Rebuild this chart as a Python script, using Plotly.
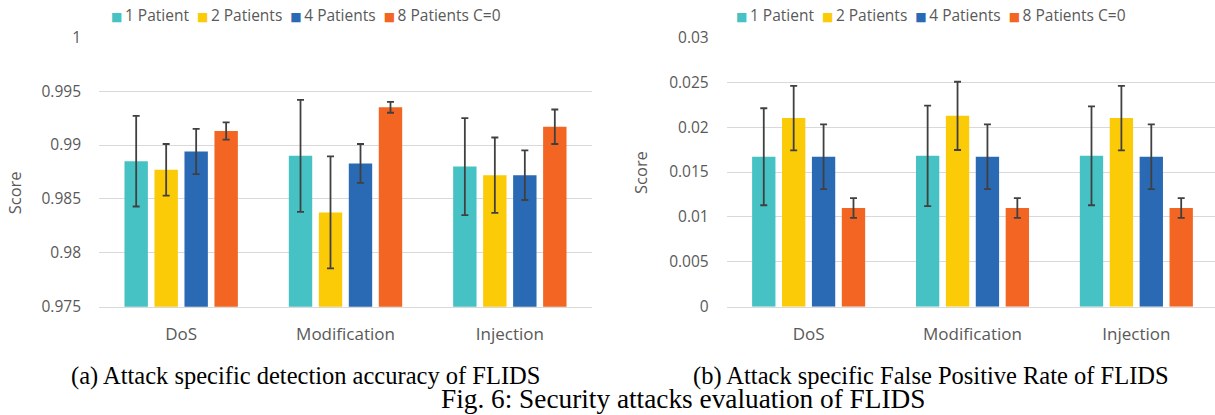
import plotly.graph_objects as go

categories = ["DoS", "Modification", "Injection"]
series_names = ["1 Patient", "2 Patients", "4 Patients", "8 Patients C=0"]
series_colors = ["#47C2C4", "#FCCB08", "#2A69B3", "#F26522"]

# (a) detection accuracy
acc_1p = [0.9885, 0.9890, 0.9880]
acc_1p_err = [0.0042, 0.0052, 0.0045]
acc_2p = [0.9877, 0.98375, 0.9872]
acc_2p_err = [0.0024, 0.0052, 0.0035]
acc_4p = [0.9894, 0.9883, 0.9872]
acc_4p_err = [0.0021, 0.0018, 0.0023]
acc_8p = [0.9913, 0.9935, 0.9917]
acc_8p_err = [0.0008, 0.0005, 0.0016]

# (b) false positive rate
fpr_1p = [0.0167, 0.0168, 0.0168]
fpr_1p_err = [0.0054, 0.0056, 0.0055]
fpr_2p = [0.0210, 0.02125, 0.0210]
fpr_2p_err = [0.0036, 0.0038, 0.0036]
fpr_4p = [0.0167, 0.0167, 0.0167]
fpr_4p_err = [0.0036, 0.0036, 0.0036]
fpr_8p = [0.0110, 0.0110, 0.0110]
fpr_8p_err = [0.0011, 0.0011, 0.0011]

acc_ticks = [0.975, 0.98, 0.985, 0.99, 0.995, 1]
acc_ticktext = ["0.975", "0.98", "0.985", "0.99", "0.995", "1"]
fpr_ticks = [0, 0.005, 0.01, 0.015, 0.02, 0.025, 0.03]
fpr_ticktext = ["0", "0.005", "0.01", "0.015", "0.02", "0.025", "0.03"]

caption_a = "(a) Attack specific detection accuracy of FLIDS"
caption_b = "(b) Attack specific False Positive Rate of FLIDS"
fig_caption = "Fig. 6: Security attacks evaluation of FLIDS"
y_title = "Score"

acc_vals = [acc_1p, acc_2p, acc_4p, acc_8p]
acc_errs = [acc_1p_err, acc_2p_err, acc_4p_err, acc_8p_err]
fpr_vals = [fpr_1p, fpr_2p, fpr_4p, fpr_8p]
fpr_errs = [fpr_1p_err, fpr_2p_err, fpr_4p_err, fpr_8p_err]

W, H = 1215, 415
FONT = "Open Sans"
GREY = "#595959"

fig = go.Figure()

def add_bars(vals, errs, xa, ya):
    for name, color, v, e in zip(series_names, series_colors, vals, errs):
        fig.add_trace(go.Bar(
            x=categories, y=v, name=name, xaxis=xa, yaxis=ya,
            marker=dict(color=color, line=dict(width=0)),
            error_y=dict(type="data", array=e, color="#404040", thickness=1.8, width=3.5),
            showlegend=False,
        ))

add_bars(acc_vals, acc_errs, "x", "y")
add_bars(fpr_vals, fpr_errs, "x2", "y2")

def px_x(p):
    return p / W

def px_y(p):
    return 1 - p / H

ydom = [px_y(306.7), px_y(37.3)]

common_x = dict(showline=True, linecolor="#D9D9D9", linewidth=1, ticks="",
                showgrid=False, tickfont=dict(family=FONT, size=17, color=GREY),
                ticklabelstandoff=12, type="category", automargin=False)
common_y = dict(showgrid=True, gridcolor="#D9D9D9", gridwidth=1, zeroline=False,
                showline=False, ticks="", ticklabelstandoff=17, automargin=False,
                tickfont=dict(family=FONT, size=15.5, color=GREY))

fig.update_layout(
    template="none",
    width=W, height=H,
    margin=dict(l=0, r=0, t=0, b=0, pad=0),
    paper_bgcolor="white", plot_bgcolor="white",
    barmode="group", bargap=0.27, bargroupgap=0.22,
    xaxis=dict(domain=[px_x(99), px_x(592)], anchor="y", range=[-0.5, 2.5], **common_x),
    yaxis=dict(domain=ydom, anchor="x", range=[0.975, 1.0], tickvals=acc_ticks,
               ticktext=acc_ticktext, **common_y),
    xaxis2=dict(domain=[px_x(726.7), 1.0], anchor="y2", range=[-0.5, 2.48], **common_x),
    yaxis2=dict(domain=ydom, anchor="x2", range=[0, 0.03], tickvals=fpr_ticks,
                ticktext=fpr_ticktext, **common_y),
    showlegend=False,
)

def legend_text():
    parts = []
    for name, color in zip(series_names, series_colors):
        parts.append(
            f"<span style='color:{color};font-family:DejaVu Sans;font-size:12px'>\u25A0</span>\u2009{name}"
        )
    return "\u00a0\u00a0".join(parts)

annotations = []
for x0 in (111, 735.7):
    annotations.append(dict(
        text=legend_text(), x=px_x(x0 - 2), y=px_y(15), xref="paper", yref="paper",
        xanchor="left", yanchor="middle", showarrow=False,
        font=dict(family=FONT, size=15.5, color=GREY),
    ))
for xc, yc in ((15.3, 193), (640.5, 172.5)):
    annotations.append(dict(
        text=y_title, x=px_x(xc), y=px_y(yc), xref="paper", yref="paper",
        xanchor="center", yanchor="middle", textangle=-90, showarrow=False,
        font=dict(family=FONT, size=16.5, color=GREY),
    ))
for text, xc, yc, size in ((caption_a, 305, 375.5, 24.5), (caption_b, 930.7, 375.5, 24.5),
                           (fig_caption, 682.5, 398.5, 27.3)):
    annotations.append(dict(
        text=text, x=px_x(xc), y=px_y(yc), xref="paper", yref="paper",
        xanchor="center", yanchor="middle", showarrow=False,
        font=dict(family="Liberation Serif", size=size, color="black"),
    ))
fig.update_layout(annotations=annotations)

fig.write_html("out.html")
